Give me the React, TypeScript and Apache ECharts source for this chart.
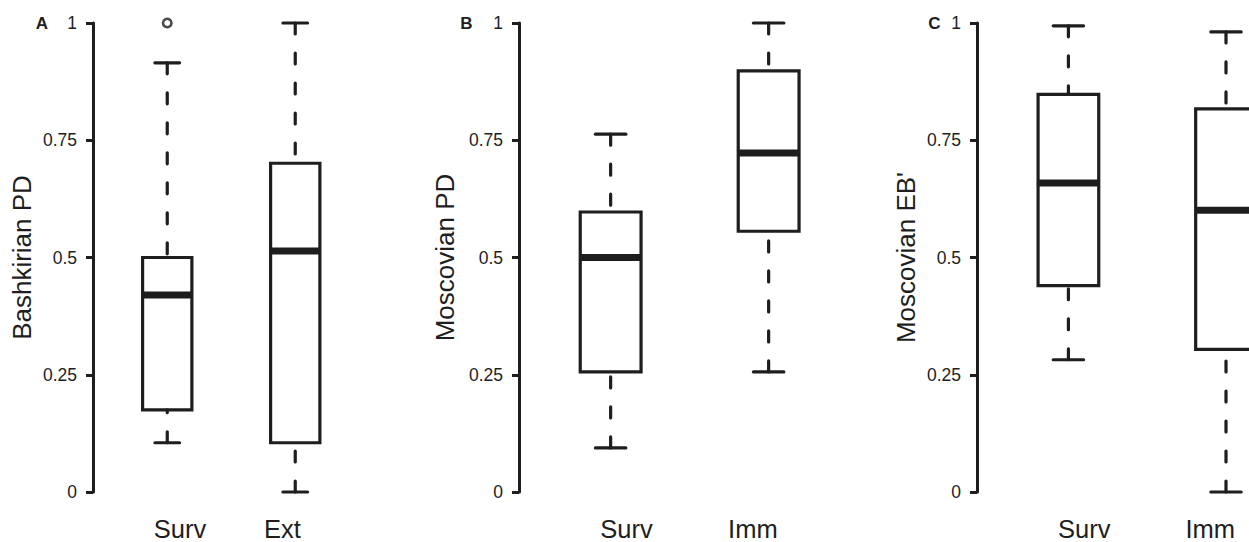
import React, { useEffect, useRef } from "react";
import * as echarts from "echarts";

// ---- data ----
const panelLetters = ["A", "B", "C"];
const yTitles = ["Bashkirian PD", "Moscovian PD", "Moscovian EB'"];
const categoriesA = ["Surv", "Ext"];
const categoriesB = ["Surv", "Imm"];
const categoriesC = ["Surv", "Imm"];
// [lower whisker, Q1, median, Q3, upper whisker]
const statsA = [
  [0.105, 0.175, 0.42, 0.5, 0.915],
  [0.0, 0.105, 0.514, 0.701, 1.0],
];
const statsB = [
  [0.094, 0.256, 0.5, 0.597, 0.763],
  [0.256, 0.556, 0.723, 0.898, 1.0],
];
const statsC = [
  [0.282, 0.44, 0.659, 0.848, 0.994],
  [0.0, 0.304, 0.601, 0.817, 0.981],
];
// [category index, value]
const outliersA = [[0, 1.0]];
const outliersB: number[][] = [];
const outliersC: number[][] = [];
const yTicks = [0, 0.25, 0.5, 0.75, 1];

// ---- layout / style (not data) ----
const W = 1249;
const H = 542;
const CANVAS_W = 1340; // wider than the window: the last panel runs off the right edge
const TOP = 23;
const BOTTOM = H - 492;
const INK = "#1e1e1e";
const FONT = "'Liberation Sans', Arial, Helvetica, sans-serif";
const BOX_FRAC = 0.385;
const panels = [
  { axisX: 93, band: 128, nameGap: 58, letterX: 48 },
  { axisX: 519, band: 158, nameGap: 61, letterX: 472.5 },
  { axisX: 977, band: 157.6, nameGap: 58.5, letterX: 940.5 },
];
const categories = [categoriesA, categoriesB, categoriesC];
const stats = [statsA, statsB, statsC];
const outliers = [outliersA, outliersB, outliersC];

function renderBox(_params: any, api: any) {
  const idx = api.value(0);
  const lo = api.value(1);
  const q1 = api.value(2);
  const med = api.value(3);
  const q3 = api.value(4);
  const hi = api.value(5);
  const pLo = api.coord([idx, lo]);
  const pQ1 = api.coord([idx, q1]);
  const pMed = api.coord([idx, med]);
  const pQ3 = api.coord([idx, q3]);
  const pHi = api.coord([idx, hi]);
  const band = api.size([1, 0])[0];
  const hb = (band * BOX_FRAC) / 2;
  const hc = hb * 0.5;
  const cx = pMed[0];
  const lw = 3.2;
  const dash = { stroke: INK, lineWidth: lw, lineDash: [11, 19], lineCap: "round", fill: null };
  const solid = { stroke: INK, lineWidth: lw, lineCap: "round", fill: null };
  return {
    type: "group",
    children: [
      { type: "line", shape: { x1: cx, y1: pHi[1], x2: cx, y2: pQ3[1] }, style: dash },
      { type: "line", shape: { x1: cx, y1: pLo[1], x2: cx, y2: pQ1[1] }, style: dash },
      { type: "line", shape: { x1: cx - hc, y1: pHi[1], x2: cx + hc, y2: pHi[1] }, style: solid },
      { type: "line", shape: { x1: cx - hc, y1: pLo[1], x2: cx + hc, y2: pLo[1] }, style: solid },
      {
        type: "rect",
        shape: { x: cx - hb, y: pQ3[1], width: 2 * hb, height: pQ1[1] - pQ3[1] },
        style: { stroke: INK, lineWidth: lw, fill: "rgba(0,0,0,0)" },
      },
      {
        type: "line",
        shape: { x1: cx - hb, y1: pMed[1], x2: cx + hb, y2: pMed[1] },
        style: { stroke: INK, lineWidth: 7, lineCap: "butt" },
      },
    ],
  };
}

function buildOption() {
  const grid: any[] = [];
  const xAxis: any[] = [];
  const yAxis: any[] = [];
  const series: any[] = [];
  const graphic: any[] = [];
  const n = panels.length;
  panels.forEach((p, i) => {
    const left = p.axisX + 0.08 * p.band;
    grid.push({ left, width: 2 * p.band, top: TOP, bottom: BOTTOM, containLabel: false });
    xAxis.push({ type: "category", gridIndex: i, data: categories[i], boundaryGap: true, show: false });
    yAxis.push({
      type: "value",
      gridIndex: i,
      min: yTicks[0],
      max: yTicks[yTicks.length - 1],
      interval: 0.25,
      offset: 0.08 * p.band,
      name: yTitles[i],
      nameLocation: "middle",
      nameRotate: 90,
      nameGap: p.nameGap,
      nameTextStyle: { fontSize: 26, color: INK, fontFamily: FONT },
      axisLine: { show: true, lineStyle: { color: INK, width: 3 } },
      axisTick: { show: true, length: 7, lineStyle: { color: INK, width: 3 } },
      axisLabel: { fontSize: 17.5, color: INK, fontFamily: FONT, margin: 16 },
      splitLine: { show: false },
    });
    series.push({
      type: "custom",
      xAxisIndex: i,
      yAxisIndex: i,
      renderItem: renderBox,
      encode: { x: 0, y: [1, 2, 3, 4, 5] },
      data: stats[i].map((s, k) => [k, ...s]),
      silent: true,
    });
    if (outliers[i].length) {
      series.push({
        type: "scatter",
        xAxisIndex: i,
        yAxisIndex: i,
        data: outliers[i],
        symbol: "circle",
        symbolSize: 8.5,
        clip: false,
        itemStyle: { color: "rgba(255,255,255,0)", borderColor: INK, borderWidth: 2.6 },
        silent: true,
      });
    }
    graphic.push({
      type: "text",
      x: p.letterX,
      y: TOP,
      style: {
        text: panelLetters[i],
        fontSize: 17,
        fontWeight: "bold",
        fontFamily: FONT,
        fill: INK,
        textAlign: "right",
        textVerticalAlign: "middle",
      },
      silent: true,
    });
  });
  // label grids: category labels sit at 0.8 of box spacing around the centre
  panels.forEach((p, i) => {
    const mid = p.axisX + 0.08 * p.band + p.band;
    grid.push({ left: mid - 0.8 * p.band, width: 1.6 * p.band, top: TOP, bottom: BOTTOM, containLabel: false });
    xAxis.push({
      type: "category",
      gridIndex: n + i,
      data: categories[i],
      boundaryGap: true,
      axisLine: { show: false },
      axisTick: { show: false },
      axisLabel: { fontSize: 25.5, color: INK, fontFamily: FONT, margin: 24 },
    });
    yAxis.push({ type: "value", gridIndex: n + i, min: 0, max: 1, show: false });
  });
  return {
    animation: false,
    backgroundColor: "#ffffff",
    textStyle: { fontFamily: FONT },
    grid,
    xAxis,
    yAxis,
    series,
    graphic,
  };
}

export default function App() {
  const ref = useRef<HTMLDivElement>(null);
  useEffect(() => {
    if (!ref.current) return;
    const chart = echarts.init(ref.current, null, { renderer: "svg" });
    chart.setOption(buildOption() as any);
    return () => chart.dispose();
  }, []);
  return (
    <div
      style={{
        position: "absolute",
        left: 0,
        top: 0,
        width: W,
        height: H,
        overflow: "hidden",
        background: "#fff",
      }}
    >
      <div ref={ref} style={{ width: CANVAS_W, height: H }} />
    </div>
  );
}
